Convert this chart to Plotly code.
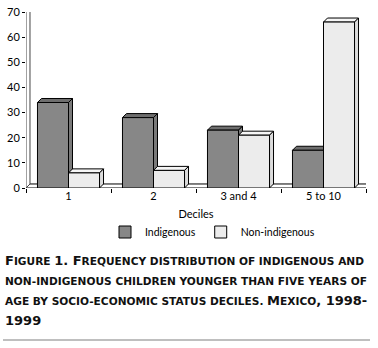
import plotly.graph_objects as go

categories = ["1", "2", "3 and 4", "5 to 10"]
indigenous = [34, 28, 23, 15]
non_indigenous = [6, 7, 21, 66]
y_ticks = [0, 10, 20, 30, 40, 50, 60, 70]

FONT = "Lato"
CAP_FONT = "DejaVu Sans"
C_IND = "#878787"
C_IND_TOP = "#6e6e6e"
C_IND_SIDE = "#7a7a7a"
C_NON = "#ececec"
C_NON_TOP = "#f6f6f6"
C_NON_SIDE = "#dcdcdc"

W, H = 378, 348
PL, PR, PT, PB = 26, 366, 12, 188   # plot area in page pixels
ML, MT = PL, PT
MR = W - PR
MB = H - PB
BARGAP = 0.27
DX = 0.047   # depth offset in category units
DY = 1.6     # depth offset in value units

fig = go.Figure()
fig.add_trace(go.Bar(name="Indigenous", x=categories, y=indigenous,
                     marker=dict(color=C_IND, line=dict(color="black", width=1))))
fig.add_trace(go.Bar(name="Non-indigenous", x=categories, y=non_indigenous,
                     marker=dict(color=C_NON, line=dict(color="black", width=1))))

shapes = []
n = len(categories)
# floor
shapes.append(dict(type="path", xref="x", yref="y", layer="below",
                   path=f"M{-0.5},0 L{n-0.5},0 L{n-0.5+DX},{DY} L{-0.5+DX},{DY} Z",
                   line=dict(color="black", width=1), fillcolor="white"))
# left wall
shapes.append(dict(type="path", xref="x", yref="y", layer="below",
                   path=f"M{-0.5},0 L{-0.5},{y_ticks[-1]} L{-0.5+DX},{y_ticks[-1]+DY} L{-0.5+DX},{DY} Z",
                   line=dict(color="#444", width=1), fillcolor="white"))
bw = (1 - BARGAP) / 2
for series, ctop, cside, off in [(indigenous, C_IND_TOP, C_IND_SIDE, -bw),
                                 (non_indigenous, C_NON_TOP, C_NON_SIDE, 0)]:
    for i, v in enumerate(series):
        x0 = i + off
        x1 = x0 + bw
        shapes.append(dict(type="path", xref="x", yref="y", layer="below",
                           path=f"M{x0},{v} L{x0+DX},{v+DY} L{x1+DX},{v+DY} L{x1},{v} Z",
                           line=dict(color="black", width=1), fillcolor=ctop))
        shapes.append(dict(type="path", xref="x", yref="y", layer="below",
                           path=f"M{x1},{v} L{x1+DX},{v+DY} L{x1+DX},{DY} L{x1},0 Z",
                           line=dict(color="black", width=1), fillcolor=cside))

def px(xp):
    return (xp - PL) / (PR - PL)
def py(yp):
    return (PB - yp) / (PB - PT)

BIG = 13
SMALL = 10.6
def sc(t):
    return f"<span style='font-size:{SMALL}px'>{t}</span>"

lines = [
    "F" + sc("IGURE ") + "1. F" + sc("REQUENCY DISTRIBUTION OF INDIGENOUS AND"),
    sc("NON-INDIGENOUS CHILDREN YOUNGER THAN FIVE YEARS OF"),
    sc("AGE BY SOCIO-ECONOMIC STATUS DECILES. ") + "M" + sc("EXICO") + ", 1998-",
    "1999",
]
line_y = [260.5, 280.5, 300.5, 320]
annotations = []
for t, yy in zip(lines, line_y):
    annotations.append(dict(text="<b>" + t + "</b>", xref="paper", yref="paper",
                            x=px(3), y=py(yy), xanchor="left", yanchor="middle",
                            showarrow=False, font=dict(family=CAP_FONT, size=BIG, color="#111")))
shapes.append(dict(type="line", xref="paper", yref="paper",
                   x0=px(3), x1=px(370), y0=py(340), y1=py(340),
                   line=dict(color="#aaaaaa", width=1.5)))

fig.update_layout(
    width=W, height=H,
    margin=dict(l=ML, r=MR, t=MT, b=MB, autoexpand=False),
    paper_bgcolor="white", plot_bgcolor="white",
    barmode="group", bargap=BARGAP, bargroupgap=0,
    font=dict(family=FONT, size=11, color="black"),
    showlegend=True,
    legend=dict(orientation="h", x=px(105), y=py(232), xanchor="left", yanchor="middle",
                font=dict(family=FONT, size=10.5), itemwidth=30, traceorder="normal"),
    shapes=shapes, annotations=annotations,
    xaxis=dict(type="category", range=[-0.5, n - 0.5], tickson="boundaries",
               ticks="outside", ticklen=4, tickcolor="black", showline=False,
               showgrid=False, zeroline=False, automargin=False,
               title=dict(text="Deciles", standoff=9, font=dict(family=FONT, size=11)),
               tickfont=dict(family=FONT, size=11)),
    yaxis=dict(range=[0, y_ticks[-1]], tickvals=y_ticks, ticks="outside", ticklen=3,
               tickcolor="black", showline=False, showgrid=False, zeroline=False,
               automargin=False, tickfont=dict(family=FONT, size=11)),
)

fig.write_html("out.html", config={"displayModeBar": False},
               post_script="document.body.style.margin='0';")
